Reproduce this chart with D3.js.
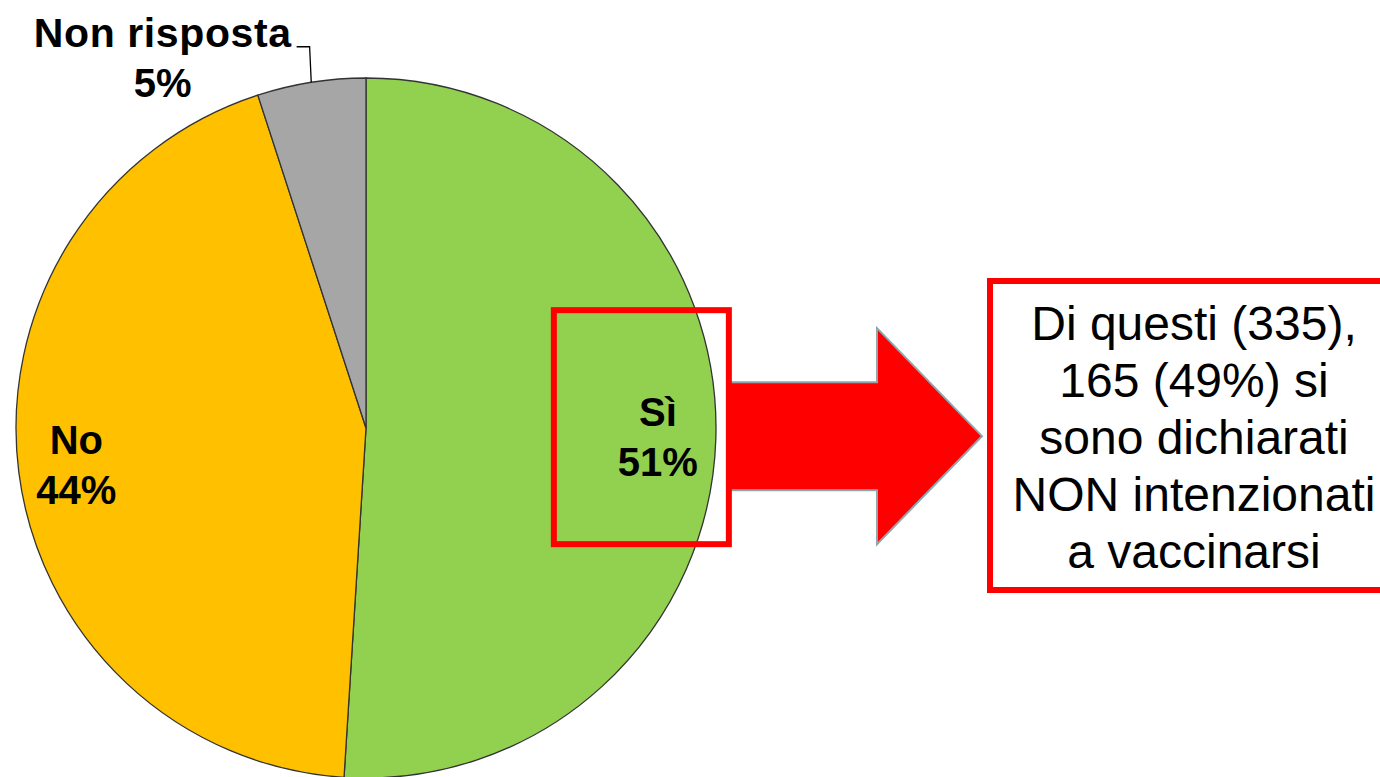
<!DOCTYPE html>
<html>
<head>
<meta charset="utf-8">
<script src="https://cdn.jsdelivr.net/npm/d3@7"></script>
<style>
  html, body { margin: 0; padding: 0; background: #ffffff; }
  svg { display: block; }
  text { font-family: "Liberation Sans", Arial, sans-serif; }
</style>
</head>
<body>
<svg id="chart" width="1380" height="777"></svg>
<script>
// Survey answers (percent of respondents)
const categories = ["Sì", "No", "Non risposta"];
const values = [51, 44, 5];
const sliceColors = ["#92D050", "#FFC000", "#A6A6A6"];

// Callout text shown to the right of the "Sì" slice
const calloutLines = [
  "Di questi (335),",
  "165 (49%) si",
  "sono dichiarati",
  "NON intenzionati",
  "a vaccinarsi"
];

const svg = d3.select("#chart");
const cx = 366, cy = 428, radius = 350;

const pie = d3.pie().sort(null).value(d => d.value);
const slices = pie(categories.map((c, i) => ({ name: c, value: values[i], color: sliceColors[i] })));

const arc = d3.arc().innerRadius(0).outerRadius(radius);
const labelArc = d3.arc().innerRadius(292).outerRadius(292);

const g = svg.append("g").attr("transform", `translate(${cx},${cy})`);

g.selectAll("path.slice")
  .data(slices)
  .join("path")
  .attr("class", "slice")
  .attr("d", arc)
  .attr("fill", d => d.data.color)
  .attr("stroke", "#333333")
  .attr("stroke-width", 1.3);

// Inside labels for the two large slices
const inside = slices.filter(d => d.data.value >= 10);
inside.forEach(d => {
  const [x, y] = labelArc.centroid(d);
  const t = g.append("text")
    .attr("text-anchor", "middle")
    .attr("font-weight", "bold")
    .attr("font-size", 40)
    .attr("fill", "#000");
  t.append("tspan").attr("x", x).attr("y", y - 11).text(d.data.name);
  t.append("tspan").attr("x", x).attr("y", y + 39).text(d.data.value + "%");
});

// Outside label with leader line for the small slice
const small = slices.filter(d => d.data.value < 10);
small.forEach(d => {
  const mid = (d.startAngle + d.endAngle) / 2;
  const p0 = [radius * Math.sin(mid), -radius * Math.cos(mid)];
  const r1 = radius + 36;
  const p1 = [r1 * Math.sin(mid) + 4, -r1 * Math.cos(mid)];
  const p2 = [p1[0] - 13, p1[1]];
  g.append("path")
    .attr("d", d3.line()([p0, p1, p2]))
    .attr("fill", "none")
    .attr("stroke", "#000")
    .attr("stroke-width", 1.3);
  const t1 = g.append("text")
    .attr("text-anchor", "end")
    .attr("font-weight", "bold")
    .attr("font-size", 41)
    .attr("letter-spacing", 0.6)
    .attr("x", p2[0] - 5)
    .attr("y", p2[1])
    .text(d.data.name);
  const w = t1.node().getComputedTextLength();
  g.append("text")
    .attr("text-anchor", "middle")
    .attr("font-weight", "bold")
    .attr("font-size", 40)
    .attr("x", p2[0] - 5 - w / 2)
    .attr("y", p2[1] + 50)
    .text(d.data.value + "%");
});

// Highlight frame around the "Sì" label
const siCentroid = labelArc.centroid(slices[0]);
const hx = cx + siCentroid[0], hy = cy + siCentroid[1];
const frame = { x0: hx - 104, x1: hx + 71, y0: hy - 127, y1: hy + 107 };

// Block arrow pointing to the callout
const midY = (frame.y0 + frame.y1) / 2 + 9;
const arrowPts = [
  [frame.x1, midY - 54],
  [877, midY - 54],
  [877, midY - 108],
  [982, midY],
  [877, midY + 108],
  [877, midY + 54],
  [frame.x1, midY + 54]
];
svg.append("path")
  .attr("d", d3.line()(arrowPts) + "Z")
  .attr("fill", "#FF0000")
  .attr("stroke", "#8FA6AE")
  .attr("stroke-width", 2);

svg.append("rect")
  .attr("x", frame.x0).attr("y", frame.y0)
  .attr("width", frame.x1 - frame.x0).attr("height", frame.y1 - frame.y0)
  .attr("fill", "none")
  .attr("stroke", "#FF0000")
  .attr("stroke-width", 6);

// Callout box
svg.append("rect")
  .attr("x", 990).attr("y", 281)
  .attr("width", 400).attr("height", 309)
  .attr("fill", "#ffffff")
  .attr("stroke", "#FF0000")
  .attr("stroke-width", 6);

const ct = svg.append("text")
  .attr("text-anchor", "middle")
  .attr("font-size", 48)
  .attr("fill", "#000");
calloutLines.forEach((line, i) => {
  ct.append("tspan").attr("x", 1194).attr("y", 340 + i * 57).text(line);
});
</script>
</body>
</html>
